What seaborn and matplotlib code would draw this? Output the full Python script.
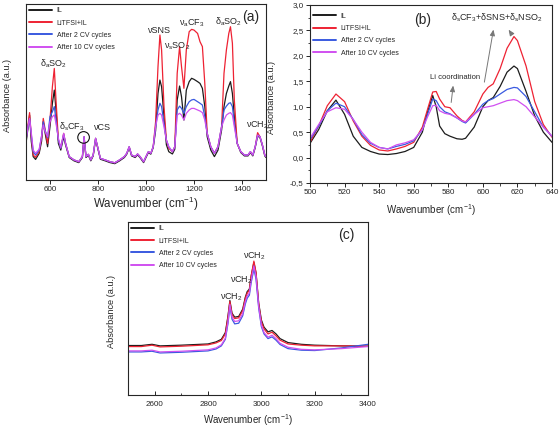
import pandas as pd
import numpy as np
import matplotlib
matplotlib.use('Agg')
import matplotlib.pyplot as plt
from matplotlib.ticker import AutoMinorLocator
import seaborn as sns

# series names / colours
samples = ['IL', 'LiTFSI+IL', 'After 2 CV cycles', 'After 10 CV cycles']
colors = ['#1c1c1c', '#ee2233', '#3a5ae0', '#d050f0']

# panel (a) - full spectrum, arbitrary units
wn_a = [500, 508, 515, 522, 530, 540, 555, 565, 572, 580, 590, 600, 610, 618, 625, 635, 645, 657, 665,
        680, 700, 720, 735, 742, 750, 760, 770, 780, 790, 800, 810, 830, 850, 870, 890, 910, 920, 930,
        940, 955, 965, 975, 990, 1000, 1010, 1020, 1030, 1040, 1050, 1058, 1065, 1075, 1085, 1095,
        1110, 1120, 1130, 1140, 1148, 1158, 1168, 1180, 1190, 1200, 1215, 1225, 1235, 1245, 1255,
        1270, 1285, 1300, 1315, 1325, 1335, 1345, 1352, 1360, 1368, 1380, 1395, 1410, 1425, 1435,
        1445, 1455, 1465, 1475, 1485, 1495, 1500]
il_a = [20.8, 29.0, 36.9, 22.0, 13.3, 11.7, 15.2, 22.0, 33.1, 26.5, 18.9, 30.3, 43.6, 51.1, 39.8, 20.8, 17.0, 24.6, 19.9,
        12.8, 10.9, 9.9, 12.8, 24.1, 12.8, 14.1, 10.9, 13.7, 23.2, 17.5, 11.8, 10.9, 9.9, 9.3, 10.9, 12.8, 14.7, 18.4,
        13.7, 12.8, 14.3, 12.8, 9.9, 12.8, 15.6, 14.7, 18.4, 28.0, 49.2, 56.8, 53.0, 36.0, 20.0, 16.1,
        14.8, 17.5, 45.5, 53.4, 47.3, 34.1, 51.1, 55.9, 57.8, 57.2, 55.9, 54.9, 52.1, 41.7, 24.6,
        17.0, 13.3, 17.0, 28.4, 41.7, 49.2, 53.4, 55.9, 49.2, 36.0, 20.8, 15.6, 13.7, 13.7, 15.6,
        13.7, 18.4, 25.0, 24.1, 19.4, 13.7, 12.8]
li_a = [22.7, 31.0, 38.3, 25.0, 14.2, 12.9, 16.1, 24.0, 35.0, 28.5, 20.8, 34.1, 53.0, 63.4, 45.5, 22.7, 18.0, 26.5, 20.8,
        13.3, 11.4, 10.4, 13.3, 24.6, 13.3, 14.6, 11.4, 14.2, 23.7, 18.0, 12.3, 11.4, 10.4, 9.8, 11.4, 13.3, 15.2, 18.9,
        14.2, 13.3, 14.8, 13.3, 10.4, 13.3, 16.1, 15.2, 18.9, 33.0, 64.4, 82.4, 73.9, 41.7, 22.7, 18.0,
        16.1, 18.9, 60.6, 75.8, 64.4, 52.1, 73.9, 84.3, 85.6, 85.2, 83.3, 78.6, 75.8, 54.9, 26.5,
        18.9, 15.2, 18.9, 30.3, 60.6, 73.9, 83.3, 87.1, 77.7, 45.5, 20.8, 16.1, 14.2, 14.2, 16.1,
        14.2, 18.9, 26.9, 24.6, 19.9, 14.2, 13.3]
cv2_a = [22.7, 30.0, 35.0, 26.0, 16.1, 14.2, 17.0, 25.0, 33.1, 28.0, 24.0, 36.0, 38.8, 41.7, 34.1, 22.7, 18.0, 26.0, 20.8,
         13.3, 11.4, 10.4, 13.3, 24.6, 13.3, 14.6, 11.4, 14.2, 23.7, 18.0, 12.3, 11.4, 10.4, 9.8, 11.4, 13.3, 15.2, 18.9,
         14.2, 13.3, 14.8, 13.3, 10.4, 13.3, 16.1, 15.2, 18.9, 30.3, 39.8, 43.6, 41.7, 32.2, 22.7, 18.9,
         16.1, 18.9, 39.8, 42.0, 40.7, 37.9, 41.7, 44.5, 45.5, 45.8, 44.5, 43.6, 42.6, 36.0, 26.5,
         18.9, 15.2, 18.9, 30.3, 39.8, 42.0, 43.6, 43.9, 41.7, 32.2, 20.8, 16.1, 14.2, 14.2, 16.1,
         14.2, 18.9, 25.5, 24.6, 19.9, 14.2, 13.3]
cv10_a = [22.7, 30.0, 35.0, 27.0, 17.0, 15.2, 17.5, 25.0, 31.3, 27.5, 24.6, 33.1, 36.0, 37.0, 32.2, 23.7, 18.5, 26.5, 20.8,
          13.3, 11.4, 10.4, 13.3, 24.6, 13.3, 14.6, 11.4, 14.2, 23.7, 18.0, 12.3, 11.4, 10.4, 9.8, 11.4, 13.3, 15.2, 18.9,
          14.2, 13.3, 14.8, 13.3, 10.4, 13.3, 16.1, 15.2, 18.9, 30.3, 36.9, 37.9, 36.9, 30.3, 22.7, 18.9,
          16.1, 18.9, 36.9, 37.9, 36.9, 34.1, 37.9, 39.8, 40.7, 40.7, 39.8, 39.2, 38.3, 34.1, 26.5,
          18.9, 15.2, 18.9, 30.3, 34.1, 36.9, 37.9, 38.3, 36.9, 30.3, 20.8, 16.1, 14.2, 14.2, 16.1,
          14.2, 18.9, 25.5, 24.6, 19.9, 14.2, 13.3]

# panel (b) - 500-640 cm-1 region
wn_b = [500, 505, 510, 515, 520, 525, 530, 535, 540, 545, 550, 555, 560, 565, 568, 571, 573, 575, 578,
        581, 585, 588, 590, 595, 600, 603, 606, 610, 614, 618, 620, 625, 630, 635, 640]
il_b = [0.28, 0.55, 0.92, 1.13, 0.85, 0.42, 0.20, 0.12, 0.07, 0.06, 0.08, 0.12, 0.20, 0.50, 0.90, 1.22, 1.00, 0.62, 0.47,
        0.42, 0.37, 0.36, 0.38, 0.60, 1.00, 1.12, 1.18, 1.40, 1.68, 1.80, 1.75, 1.30, 0.82, 0.50, 0.30]
li_b = [0.30, 0.62, 1.02, 1.25, 1.10, 0.72, 0.42, 0.24, 0.15, 0.13, 0.17, 0.22, 0.30, 0.60, 0.95, 1.29, 1.30, 1.15, 1.00,
        0.98, 0.82, 0.73, 0.70, 0.90, 1.25, 1.38, 1.45, 1.75, 2.15, 2.38, 2.30, 1.80, 1.10, 0.65, 0.40]
cv2_b = [0.35, 0.62, 0.92, 1.07, 1.00, 0.75, 0.45, 0.28, 0.20, 0.17, 0.22, 0.26, 0.33, 0.55, 0.85, 1.15, 1.12, 1.00, 0.90,
         0.86, 0.78, 0.71, 0.68, 0.85, 1.05, 1.12, 1.16, 1.25, 1.34, 1.38, 1.37, 1.20, 0.90, 0.60, 0.42]
cv10_b = [0.38, 0.65, 0.90, 0.98, 0.95, 0.75, 0.50, 0.30, 0.20, 0.17, 0.25, 0.29, 0.35, 0.55, 0.80, 1.02, 1.03, 0.92, 0.87,
          0.85, 0.78, 0.72, 0.70, 0.85, 0.98, 1.00, 1.02, 1.07, 1.12, 1.14, 1.12, 1.00, 0.80, 0.60, 0.42]
b_yticks = [-0.5, 0.0, 0.5, 1.0, 1.5, 2.0, 2.5, 3.0]
b_yticklabels = ['-0,5', '0,0', '0,5', '1,0', '1,5', '2,0', '2,5', '3,0']

# panel (c) - CH stretching region, arbitrary units
wn_c = [2500, 2550, 2590, 2620, 2700, 2800, 2830, 2850, 2865, 2875, 2882, 2890, 2900, 2915, 2930, 2940,
        2947, 2955, 2962, 2972, 2980, 2990, 3000, 3010, 3025, 3040, 3055, 3070, 3100, 3150, 3200, 3300, 3400]
il_c = [28.6, 28.6, 29.3, 28.4, 28.8, 29.5, 30.7, 32.2, 36.1, 45.8, 54.6, 47.3, 45.0, 45.4, 49.6, 56.6,
        59.8, 61.2, 68.9, 76.6, 70.5, 53.1, 43.4, 39.2, 36.5, 37.3, 35.3, 32.6, 30.3, 29.3, 28.8, 28.4, 28.2]
li_c = [28.0, 28.0, 28.8, 27.8, 28.2, 29.0, 30.1, 31.5, 35.3, 45.2, 54.1, 46.5, 44.2, 44.6, 48.8, 56.0,
        58.9, 60.6, 69.1, 77.4, 70.8, 52.5, 42.5, 38.2, 35.3, 36.3, 34.2, 31.7, 29.5, 28.8, 28.4, 28.4, 28.2]
cv2_c = [24.9, 24.9, 25.3, 24.3, 24.7, 25.5, 26.6, 28.4, 32.2, 41.5, 51.2, 43.8, 41.1, 41.5, 45.8, 52.7,
         56.0, 57.7, 65.1, 72.8, 67.0, 50.2, 39.6, 35.3, 32.6, 33.6, 31.7, 29.2, 26.8, 25.9, 25.7, 27.2, 29.3]
cv10_c = [25.5, 25.5, 25.9, 24.9, 25.3, 26.1, 27.2, 29.0, 32.8, 42.5, 52.3, 45.0, 42.5, 42.9, 46.9, 54.1,
          57.3, 58.9, 66.6, 74.7, 68.5, 51.2, 40.5, 36.1, 33.4, 34.6, 32.6, 29.9, 27.6, 26.4, 26.1, 26.8, 28.0]


def to_long(wn, series):
    frames = []
    for name, vals in zip(samples, series):
        frames.append(pd.DataFrame({'wn': wn, 'abs': vals, 'sample': name}))
    return pd.concat(frames, ignore_index=True)


sns.set_style('ticks')
plt.rcParams['font.family'] = ['Liberation Sans', 'DejaVu Sans']
plt.rcParams['mathtext.fontset'] = 'custom'
plt.rcParams['mathtext.rm'] = 'Liberation Sans'
plt.rcParams['mathtext.it'] = 'Liberation Sans:italic'
plt.rcParams['axes.linewidth'] = 0.8
plt.rcParams['xtick.major.size'] = 3
plt.rcParams['ytick.major.size'] = 3
plt.rcParams['xtick.minor.size'] = 1.8
plt.rcParams['ytick.minor.size'] = 1.8
plt.rcParams['xtick.major.width'] = 0.7
plt.rcParams['ytick.major.width'] = 0.7

fig = plt.figure(figsize=(5.6, 4.28), dpi=100)
ax_a = fig.add_axes([0.0464, 0.5794, 0.4286, 0.4112])
ax_b = fig.add_axes([0.5536, 0.5724, 0.4321, 0.4159])
ax_c = fig.add_axes([0.2286, 0.0771, 0.4286, 0.4042])

xlab = 'Wavenumber (cm$^{\\mathregular{-1}}$)'
pal = dict(zip(samples, colors))

# ax, data, xlim, ylim, xticks, label size, xlabel pos, ylabel pos, legend top
panels = [
    (ax_a, to_long(wn_a, [il_a, li_a, cv2_a, cv10_a]), (500, 1500), (0, 100), [600, 800, 1000, 1200, 1400],
     8.3, -0.085, -0.06, 1.0),
    (ax_b, to_long(wn_b, [il_b, li_b, cv2_b, cv10_b]), (500, 640), (-0.5, 3.0), [500, 520, 540, 560, 580, 600, 620, 640],
     7.0, -0.105, -0.14, 0.975),
    (ax_c, to_long(wn_c, [il_c, li_c, cv2_c, cv10_c]), (2500, 3400), (0, 100), [2600, 2800, 3000, 3200, 3400],
     7.0, -0.1, -0.05, 1.0),
]

for ax, df, xl, yl, xt, lsize, xlab_y, ylab_x, leg_top in panels:
    sns.lineplot(data=df, x='wn', y='abs', hue='sample', palette=pal, hue_order=samples,
                 estimator=None, sort=True, linewidth=0.9, ax=ax)
    ax.set_xlim(*xl)
    ax.set_ylim(*yl)
    ax.set_xticks(xt)
    ax.tick_params(labelsize=5.8, pad=1.5)
    ax.set_xlabel(xlab, fontsize=lsize)
    ax.set_ylabel('Absorbance (a.u.)', fontsize=6.6)
    ax.xaxis.set_label_coords(0.5, xlab_y)
    ax.yaxis.set_label_coords(ylab_x, 0.48)
    leg = ax.legend(loc='upper left', bbox_to_anchor=(0.0, leg_top), frameon=False, fontsize=5.0,
                    handlelength=3.3, handletextpad=0.6, labelspacing=0.75, borderaxespad=0.3, borderpad=0.2)
    for ln in leg.get_lines():
        ln.set_linewidth(1.4)

ax_a.set_yticks([])
ax_c.set_yticks([])
ax_b.set_yticks(b_yticks)
ax_b.set_yticklabels(b_yticklabels)
ax_b.yaxis.set_minor_locator(AutoMinorLocator(2))
ax_b.xaxis.set_minor_locator(AutoMinorLocator(2))
ax_c.xaxis.set_minor_locator(AutoMinorLocator(2))
ax_c.tick_params(axis='x', which='both', direction='in', pad=4)

# panel (a) annotations
fs = 6.5
ax_a.text(1435, 92.8, '(a)', fontsize=10, ha='center', va='center')
ax_a.text(615, 66.3, 'δ$_\\mathregular{a}$SO$_\\mathregular{2}$', fontsize=fs, ha='center', va='center')
ax_a.text(692, 30.3, 'δ$_\\mathregular{s}$CF$_\\mathregular{3}$', fontsize=fs, ha='center', va='center')
ax_a.text(817, 29.7, 'νCS', fontsize=fs, ha='center', va='center')
ax_a.text(1057, 85.2, 'νSNS', fontsize=fs, ha='center', va='center')
ax_a.text(1129, 75.8, 'ν$_\\mathregular{s}$SO$_\\mathregular{2}$', fontsize=fs, ha='center', va='center')
ax_a.text(1192, 89.0, 'ν$_\\mathregular{a}$CF$_\\mathregular{3}$', fontsize=fs, ha='center', va='center')
ax_a.text(1344, 90.0, 'δ$_\\mathregular{a}$SO$_\\mathregular{2}$', fontsize=fs, ha='center', va='center')
ax_a.text(1465, 31.2, 'νCH$_\\mathregular{2}$', fontsize=fs, ha='center', va='center')
ax_a.scatter([740], [24.2], s=70, facecolors='none', edgecolors='#111111', linewidths=0.8, zorder=5)

# panel (b) annotations
ax_b.text(565, 2.70, '(b)', fontsize=10, ha='center', va='center')
ax_b.text(608, 2.74, 'δ$_\\mathregular{s}$CF$_\\mathregular{3}$+δSNS+δ$_\\mathregular{s}$NSO$_\\mathregular{2}$',
          fontsize=fs, ha='center', va='center')
ax_b.text(584, 1.58, 'Li coordination', fontsize=5.5, ha='center', va='center')
arrow = dict(arrowstyle='-|>,head_length=0.35,head_width=0.15', color='#777777', lw=0.7)
ax_b.annotate('', xy=(583, 1.47), xytext=(581.5, 1.03), arrowprops=arrow)
ax_b.annotate('', xy=(606.4, 2.57), xytext=(600.6, 1.43), arrowprops=arrow)
ax_b.annotate('', xy=(614, 2.56), xytext=(617.4, 2.39), arrowprops=arrow)

# panel (c) annotations
ax_c.text(3319, 92.7, '(c)', fontsize=10, ha='center', va='center')
ax_c.text(2887, 56.6, 'νCH$_\\mathregular{2}$', fontsize=fs, ha='center', va='center')
ax_c.text(2925, 66.6, 'νCH$_\\mathregular{2}$', fontsize=fs, ha='center', va='center')
ax_c.text(2975, 80.1, 'νCH$_\\mathregular{2}$', fontsize=fs, ha='center', va='center')

fig.savefig('out.png', dpi=100)
